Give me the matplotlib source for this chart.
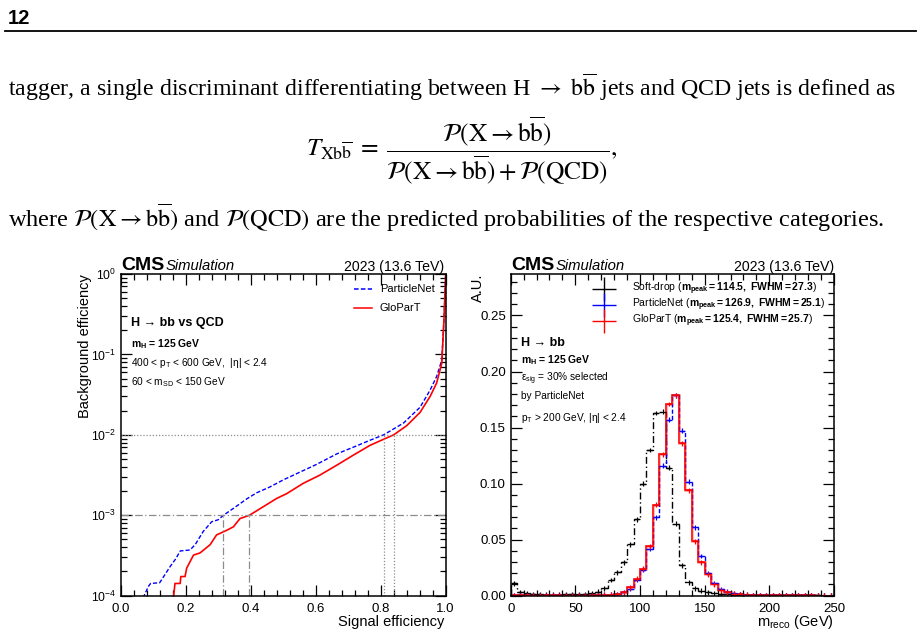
import numpy as np
import matplotlib
matplotlib.use("Agg")
import matplotlib.pyplot as plt
from matplotlib.ticker import MultipleLocator, LogLocator, NullFormatter, FormatStrFormatter
from matplotlib.lines import Line2D

plt.rcParams['font.family'] = ['Liberation Sans', 'DejaVu Sans']
plt.rcParams['mathtext.fontset'] = 'custom'
plt.rcParams['mathtext.rm'] = 'Liberation Sans'
plt.rcParams['mathtext.it'] = 'Liberation Sans:italic'
plt.rcParams['mathtext.bf'] = 'Liberation Sans:bold'
plt.rcParams['mathtext.sf'] = 'Liberation Sans'

# ---------------- data: ROC curves ----------------
pnet_sig = [0.060, 0.072, 0.085, 0.092, 0.120, 0.135, 0.152, 0.170, 0.183, 0.213, 0.229,
            0.254, 0.280, 0.300, 0.316, 0.347, 0.388, 0.418, 0.459, 0.500, 0.562, 0.603,
            0.665, 0.726, 0.765, 0.809, 0.870, 0.921, 0.952, 0.972, 0.988, 0.995, 1.000]
pnet_bkg = [8e-5, 1.0e-4, 1.3e-4, 1.42e-4, 1.45e-4, 1.8e-4, 2.3e-4, 2.9e-4, 3.6e-4, 3.7e-4, 4.3e-4,
            6.3e-4, 8.3e-4, 8.8e-4, 1.0e-3, 1.22e-3, 1.6e-3, 1.9e-3, 2.25e-3, 2.75e-3, 3.6e-3, 4.3e-3,
            5.8e-3, 7.3e-3, 8.5e-3, 1.0e-2, 1.4e-2, 2.2e-2, 3.6e-2, 5.3e-2, 8.5e-2, 0.29, 1.0]

glopart_sig = [0.157, 0.163, 0.167, 0.183, 0.185, 0.198, 0.203, 0.224, 0.244, 0.275, 0.295,
               0.326, 0.347, 0.367, 0.396, 0.439, 0.480, 0.511, 0.562, 0.613, 0.665, 0.716,
               0.767, 0.803, 0.840, 0.880, 0.921, 0.952, 0.972, 0.988, 0.995, 1.000]
glopart_bkg = [8e-5, 1.0e-4, 1.42e-4, 1.42e-4, 1.73e-4, 1.73e-4, 2.2e-4, 3.2e-4, 3.4e-4, 4.3e-4, 5.7e-4,
               6.5e-4, 7.2e-4, 9.1e-4, 1.0e-3, 1.28e-3, 1.62e-3, 1.86e-3, 2.5e-3, 3.16e-3, 4.2e-3, 5.6e-3,
               7.4e-3, 8.6e-3, 1.0e-2, 1.3e-2, 1.9e-2, 3.0e-2, 4.4e-2, 7.8e-2, 0.29, 1.0]
thresholds = [1e-3, 1e-2]

# ---------------- data: mass histograms (5 GeV bins, 0-250) ----------------
bin_edges = list(range(0, 255, 5))
softdrop = [0.011, 0.003, 0.002, 0.0015, 0.0012, 0.001, 0.001, 0.001, 0.0012, 0.0012,
            0.0013, 0.0015, 0.002, 0.0036, 0.0066, 0.014, 0.021, 0.030, 0.046, 0.068,
            0.100, 0.130, 0.163, 0.164, 0.114, 0.064, 0.027, 0.012, 0.0065, 0.0045,
            0.003, 0.0022, 0.0015, 0.0012, 0.001, 0.0008, 0.0006, 0.0005, 0.0004, 0.0004,
            0.0003, 0.0003, 0.0003, 0.0002, 0.0002, 0.0002, 0.0002, 0.0002, 0.0001, 0.0001]
particlenet = [0.0002, 0.0002, 0.0002, 0.0002, 0.0003, 0.0003, 0.0003, 0.0003, 0.0004, 0.0004,
               0.0004, 0.0005, 0.0005, 0.0006, 0.0008, 0.001, 0.0015, 0.003, 0.006, 0.014,
               0.023, 0.042, 0.070, 0.116, 0.157, 0.179, 0.147, 0.1016, 0.061, 0.0354,
               0.020, 0.011, 0.006, 0.0035, 0.002, 0.0012, 0.0008, 0.0006, 0.0005, 0.0004,
               0.0003, 0.0003, 0.0003, 0.0002, 0.0002, 0.0002, 0.0002, 0.0001, 0.0001, 0.0001]
glopart = [0.0002, 0.0002, 0.0002, 0.0002, 0.0003, 0.0003, 0.0003, 0.0003, 0.0003, 0.0004,
           0.0004, 0.0004, 0.0005, 0.0005, 0.0007, 0.001, 0.0015, 0.003, 0.0075, 0.015,
           0.024, 0.044, 0.081, 0.126, 0.171, 0.179, 0.136, 0.094, 0.0487, 0.0297,
           0.019, 0.0104, 0.005, 0.003, 0.0018, 0.0012, 0.0008, 0.0006, 0.0004, 0.0004,
           0.0003, 0.0003, 0.0003, 0.0002, 0.0002, 0.0002, 0.0002, 0.0001, 0.0001, 0.0001]

W, H = 921, 635
fig = plt.figure(figsize=(W / 100, H / 100), dpi=100)


def fx(px):
    return px / W


def fy(py):
    return 1 - py / H


# ---------------- page text ----------------
fig.text(fx(8), fy(18), "12", weight='bold', size=14.5, va='center', ha='left')
fig.add_artist(Line2D([fx(5), fx(916)], [fy(31), fy(31)], color='black', lw=1.3))

serif = dict(family=['Liberation Serif', 'DejaVu Serif'], math_fontfamily='stix')
BB = r"\mathrm{b}\overline{\mathrm{b}}"
t1 = fig.text(fx(8), fy(87),
              r"tagger, a single discriminant differentiating between H $\rightarrow$ $" + BB + r"$ jets and QCD jets is defined as",
              size=15, va='center', ha='left', **serif)
t2 = fig.text(fx(8), fy(218),
              r"where $\mathcal{P}(\mathrm{X} \rightarrow " + BB + r")$ and $\mathcal{P}(\mathrm{QCD})$ are the predicted probabilities of the respective categories.",
              size=15, va='center', ha='left', **serif)
eq = fig.text(fx(462), fy(151),
              r"$T_{\mathrm{X}" + BB + r"}\;=\;\dfrac{\mathcal{P}(\mathrm{X} \rightarrow " + BB + r")}{\mathcal{P}(\mathrm{X} \rightarrow " + BB + r") + \mathcal{P}(\mathrm{QCD})},$",
              size=18.3, va='center', ha='center', **serif)

# fit body lines to their widths in the reference
fig.canvas.draw()
r = fig.canvas.get_renderer()
for t, target in ((t1, 889), (t2, 878)):
    w = t.get_window_extent(r).width
    t.set_size(t.get_size() * target / w)

# ---------------- axes ----------------
axL = fig.add_axes([fx(120.7), fy(595.7), fx(445.7) - fx(120.7), fy(274) - fy(595.7)])
axR = fig.add_axes([fx(510.7), fy(595.7), fx(834) - fx(510.7), fy(274) - fy(595.7)])

for ax in (axL, axR):
    ax.tick_params(which='both', direction='in', top=True, right=True, labelsize=9.5, width=0.9)
    ax.tick_params(which='major', length=8)
    ax.tick_params(which='minor', length=4)
    for s in ax.spines.values():
        s.set_linewidth(1.1)
axL.tick_params(axis='y', which='major', labelsize=8.8, pad=3)
axL.tick_params(axis='x', which='major', pad=5)
axR.tick_params(axis='x', which='major', pad=5)

# left ROC plot
axL.semilogy(pnet_sig, pnet_bkg, color='#0000ff', ls=(0, (3, 1.5)), lw=1.0)
axL.semilogy(glopart_sig, glopart_bkg, color='#ff0000', ls='-', lw=1.2)
axL.set_xlim(0, 1)
axL.set_ylim(1e-4, 1)
axL.xaxis.set_major_locator(MultipleLocator(0.2))
axL.xaxis.set_minor_locator(MultipleLocator(0.04))
axL.xaxis.set_major_formatter(FormatStrFormatter('%.1f'))
axL.yaxis.set_minor_locator(LogLocator(base=10, subs=np.arange(2, 10)))
axL.yaxis.set_minor_formatter(NullFormatter())

grey = '#8c8c8c'
styles = {1e-3: (0, (6, 2, 1, 2)), 1e-2: (0, (1, 1.5))}
for thr in thresholds:
    axL.axhline(thr, color=grey, lw=0.9, ls=styles[thr])
    for sig, bkg in ((pnet_sig, pnet_bkg), (glopart_sig, glopart_bkg)):
        xv = np.interp(np.log10(thr), np.log10(bkg), sig)
        axL.plot([xv, xv], [1e-4, thr], color=grey, lw=0.9, ls=styles[thr])

# right mass plot
edges = np.array(bin_edges)
centers = 0.5 * (edges[1:] + edges[:-1])
axR.stairs(glopart, edges, color='#ff8080', lw=2.2, alpha=0.5)
axR.stairs(softdrop, edges, color='black', lw=1.0, ls=(0, (5, 2, 1, 2)))
axR.stairs(particlenet, edges, color='#0000ff', lw=1.0, ls=(0, (3, 1.5)))
axR.stairs(glopart, edges, color='#ff0000', lw=1.1)
for vals, c in ((softdrop, 'black'), (particlenet, '#0000ff'), (glopart, '#ff0000')):
    axR.errorbar(centers, vals, xerr=2.5, yerr=0.0022, fmt='none', ecolor=c, elinewidth=0.9)
axR.set_xlim(0, 250)
axR.set_ylim(0, 0.287)
axR.xaxis.set_major_locator(MultipleLocator(50))
axR.xaxis.set_minor_locator(MultipleLocator(10))
axR.yaxis.set_major_locator(MultipleLocator(0.05))
axR.yaxis.set_minor_locator(MultipleLocator(0.01))
axR.xaxis.set_major_formatter(FormatStrFormatter('%d'))
axR.yaxis.set_major_formatter(FormatStrFormatter('%.2f'))

# ---------------- labels ----------------
for x0, x1 in ((121, 444.5), (511, 834)):
    fig.text(fx(x0), fy(270.5), "CMS", weight='bold', size=14, ha='left', va='baseline')
    fig.text(fx(x0 + 45), fy(270.5), "Simulation", style='italic', size=10.7, ha='left', va='baseline')
    fig.text(fx(x1), fy(270.5), "2023 (13.6 TeV)", size=10.2, ha='right', va='baseline')

fig.text(fx(85), fy(274), "Background efficiency", rotation=90, size=10.5, ha='center', va='top')
fig.text(fx(444.5), fy(626), "Signal efficiency", size=10.5, ha='right', va='baseline')
fig.text(fx(478), fy(274), "A.U.", rotation=90, size=10.5, ha='center', va='top')
fig.text(fx(834), fy(626), r"m$_{\mathrm{reco}}$ (GeV)", size=10.5, ha='right', va='baseline')


def ptext(ax, x0, y0, x, y, s, **kw):
    axx = (x - x0[0]) / (x0[1] - x0[0])
    axy = (y0[1] - y) / (y0[1] - y0[0])
    ax.text(axx, axy, s, transform=ax.transAxes, va='center', ha='left', **kw)


LX, RX, YY = (120.7, 445.7), (510.7, 834), (274, 595.7)
ptext(axL, LX, YY, 131, 323, "H → bb vs QCD", weight='bold', size=9)
ptext(axL, LX, YY, 131, 344, r"$\mathbf{m_{H}}$ = 125 GeV", weight='bold', size=7.5)
ptext(axL, LX, YY, 131, 363, r"400 < p$_{\mathrm{T}}$ < 600 GeV,  |η| < 2.4", size=7.3)
ptext(axL, LX, YY, 131, 382, r"60 < m$_{\mathrm{SD}}$ < 150 GeV", size=7.3)

ptext(axR, RX, YY, 521, 343, "H → bb", weight='bold', size=9)
ptext(axR, RX, YY, 521, 360, r"$\mathbf{m_{H}}$ = 125 GeV", weight='bold', size=7.5)
ptext(axR, RX, YY, 521, 379, r"ε$_{\mathrm{sig}}$ = 30% selected", size=7.3)
ptext(axR, RX, YY, 521, 396, "by ParticleNet", size=7.3)
ptext(axR, RX, YY, 521, 418, r"p$_{\mathrm{T}}$ > 200 GeV, |η| < 2.4", size=7.3)

# left legend
for y, c, ls, lab in ((289, '#0000ff', (0, (3, 1.5)), "ParticleNet"), (308, '#ff0000', '-', "GloParT")):
    ax = axL
    ya = (YY[1] - y) / (YY[1] - YY[0])
    ax.plot([(354 - LX[0]) / 325, (372 - LX[0]) / 325], [ya, ya], transform=ax.transAxes,
            color=c, ls=ls, lw=1.1)
    ptext(ax, LX, YY, 380, y, lab, size=8)

# right legend
leg_items = ((289, 'black', r"Soft-drop ($\mathbf{m_{peak}=114.5,\ FWHM=27.3}$)"),
             (305, '#0000ff', r"ParticleNet ($\mathbf{m_{peak}=126.9,\ FWHM=25.1}$)"),
             (321, '#ff0000', r"GloParT ($\mathbf{m_{peak}=125.4,\ FWHM=25.7}$)"))
for y, c, lab in leg_items:
    ya = (YY[1] - y) / (YY[1] - YY[0])
    xa = (604 - RX[0]) / (RX[1] - RX[0])
    axR.plot([xa], [ya], transform=axR.transAxes, marker='+', ms=17, mew=1.0, color=c, ls='none')
    ptext(axR, RX, YY, 632, y, lab, size=7.5)

fig.savefig("out.png", dpi=100)
